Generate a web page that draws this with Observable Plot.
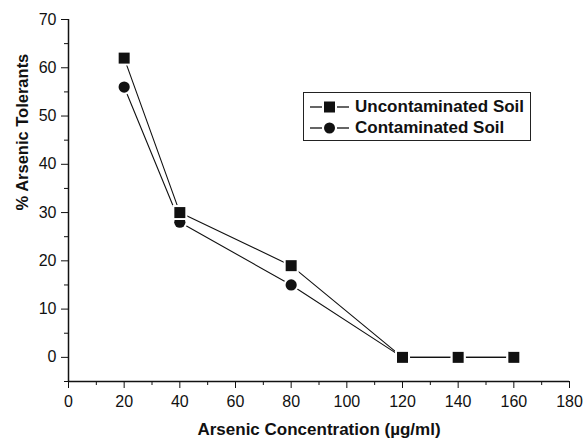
<!DOCTYPE html>
<html>
<head>
<meta charset="utf-8">
<script src="https://cdn.jsdelivr.net/npm/d3@7"></script>
<script src="https://cdn.jsdelivr.net/npm/@observablehq/plot@0.6"></script>
<style>
  html, body { margin: 0; padding: 0; background: #fff; }
  #wrap { position: relative; width: 583px; height: 438px; font-family: "Liberation Sans", Arial, sans-serif; }
  #legend { position: absolute; left: 303px; top: 92px; width: 226px; height: 47px; border: 1px solid #222; background: #fff; box-sizing: content-box; }
  .row { position: absolute; left: 6px; height: 20px; display: flex; align-items: center; font-weight: bold; font-size: 17px; color: #111; white-space: nowrap; }
  .row svg { margin-right: 6px; }
</style>
</head>
<body>
<div id="wrap"></div>
<script>
const concentration = [20, 40, 80, 120, 140, 160];
const uncontaminated = [62, 30, 19, 0, 0, 0];
const contaminated = [56, 28, 15, 0, 0, 0];
const seriesNames = ["Uncontaminated Soil", "Contaminated Soil"];
const xTicks = [0, 20, 40, 60, 80, 100, 120, 140, 160, 180];
const xMinor = [10, 30, 50, 70, 90, 110, 130, 150, 170];
const yTicks = [0, 10, 20, 30, 40, 50, 60, 70];
const yMinor = [-5, 5, 15, 25, 35, 45, 55, 65];

const dataU = concentration.map((x, i) => ({x, y: uncontaminated[i]}));
const dataC = concentration.map((x, i) => ({x, y: contaminated[i]}));

const plot = Plot.plot({
  width: 583,
  height: 438,
  marginLeft: 68,
  marginRight: 14,
  marginTop: 19,
  marginBottom: 57,
  style: {fontFamily: "'Liberation Sans', Arial, sans-serif", fontSize: "16px", color: "#111", background: "#fff"},
  x: {domain: [0, 180]},
  y: {domain: [-5, 70]},
  marks: [
    Plot.axisX({ticks: xTicks, tickSize: 7, tickPadding: 7, tickFormat: d => String(d), fontSize: 16, label: null}),
    Plot.axisX({ticks: xMinor, tickSize: 4, tickFormat: () => "", label: null}),
    Plot.axisY({ticks: yTicks, tickSize: 7, tickPadding: 5, tickFormat: d => String(d), fontSize: 16, label: null}),
    Plot.axisY({ticks: yMinor, tickSize: 4, tickFormat: () => "", label: null}),
    Plot.ruleY([-5], {stroke: "#111", strokeWidth: 1.5}),
    Plot.ruleX([0], {stroke: "#111", strokeWidth: 1.5}),
    Plot.line(dataU, {x: "x", y: "y", stroke: "#111", strokeWidth: 1.1}),
    Plot.line(dataC, {x: "x", y: "y", stroke: "#111", strokeWidth: 1.1}),
    Plot.dot(dataC, {x: "x", y: "y", symbol: "circle", r: 5.6, fill: "#111", stroke: "#fff", strokeWidth: 4, paintOrder: "stroke"}),
    Plot.dot(dataU, {x: "x", y: "y", symbol: "square", r: 6.2, fill: "#111", stroke: "#fff", strokeWidth: 4, paintOrder: "stroke"}),
    Plot.text(["Arsenic Concentration (µg/ml)"], {frameAnchor: "bottom", lineAnchor: "middle", dy: 48.5, fontWeight: "bold", fontSize: 17, fill: "#111"}),
    Plot.text(["% Arsenic Tolerants"], {frameAnchor: "left", lineAnchor: "middle", dx: -45.5, dy: 10, rotate: -90, fontWeight: "bold", fontSize: 16.5, fill: "#111"})
  ]
});
const wrap = document.getElementById("wrap");
wrap.appendChild(plot);

const legend = document.createElement("div");
legend.id = "legend";
const sym = [
  '<rect x="14" y="4.5" width="11" height="11" fill="#111"/>',
  '<circle cx="19.5" cy="10" r="5.5" fill="#111"/>'
];
seriesNames.forEach((name, i) => {
  const row = document.createElement("div");
  row.className = "row";
  row.style.top = (4 + i * 21) + "px";
  row.innerHTML = `<svg width="39" height="20"><line x1="0" x2="12" y1="10" y2="10" stroke="#111" stroke-width="1.3"/><line x1="27" x2="39" y1="10" y2="10" stroke="#111" stroke-width="1.3"/>${sym[i]}</svg><span>${name}</span>`;
  legend.appendChild(row);
});
wrap.appendChild(legend);
</script>
</body>
</html>
